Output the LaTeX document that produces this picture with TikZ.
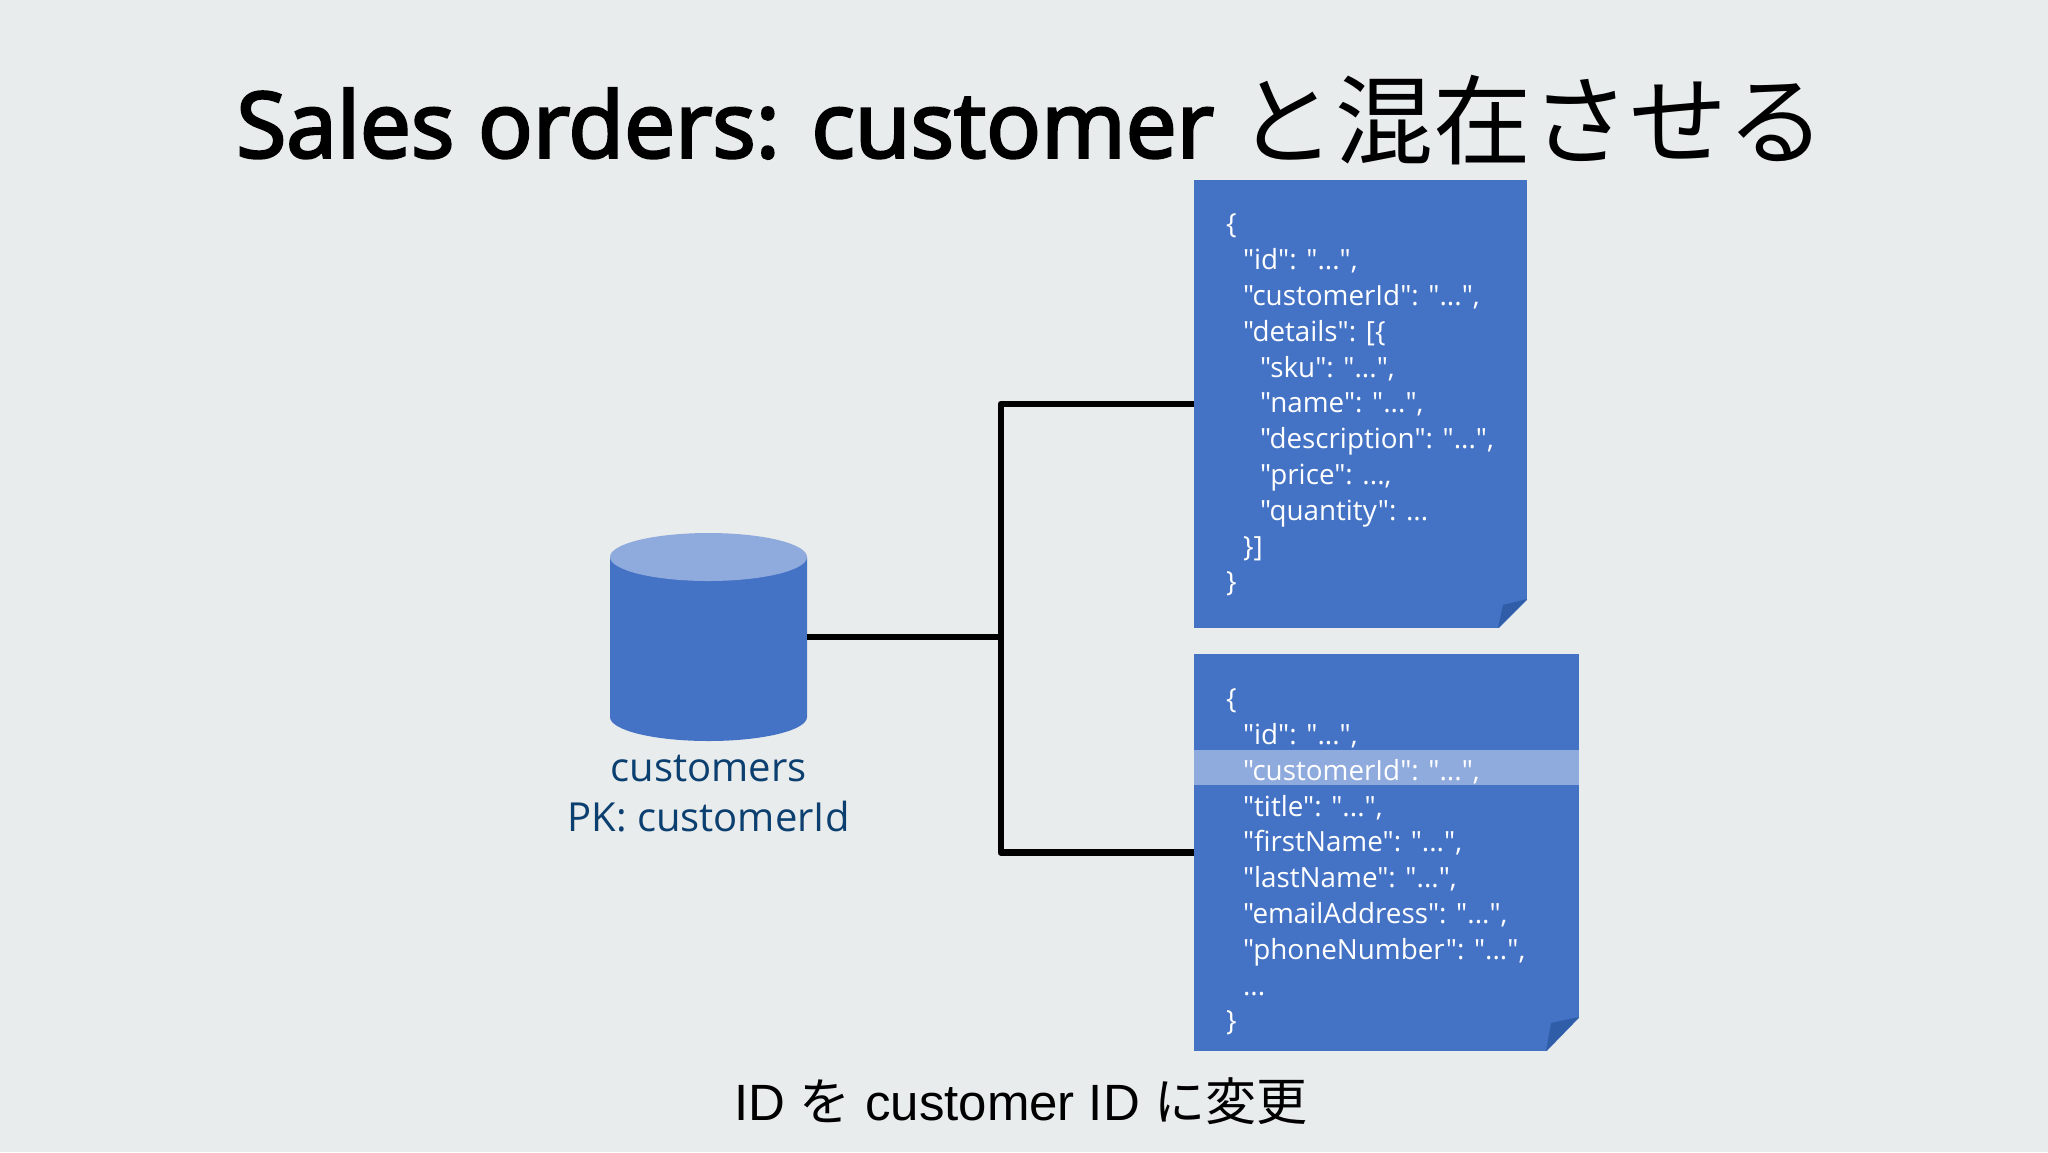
\documentclass[tikz,border=0pt]{standalone}
\usepackage{fontspec}
\setmainfont{Open Sans}
\newfontfamily\jsonfont{Open Sans}
\newfontfamily\jpfont{Noto Sans CJK JP}
\newfontfamily\titlefont[FakeBold=3]{Open Sans}
\newfontfamily\notefont{Liberation Sans}
\usepackage{tikz}
\usetikzlibrary{positioning}
\definecolor{tlo}{HTML}{E9ECEC}
\definecolor{niebieski}{HTML}{4472C4}
\definecolor{jasny}{HTML}{8FAADC}
\definecolor{ciemny}{HTML}{2F5DA8}
\definecolor{granat}{HTML}{0B3F70}

\begin{document}
\begin{tikzpicture}[x=.5pt,y=-.5pt]
\tikzset{
    %dokument
    dokument/.style={
           rectangle,
           inner sep=0pt, outer sep=0pt,
           fill=niebieski,
           anchor=north west},
    %tekst json
    jsontxt/.style={
           inner sep=0pt, outer sep=0pt,
           text=white,
           align=left,
           font=\jsonfont\fontsize{13.9}{17.9}\selectfont},
    pasek/.style={
           rectangle,
           inner sep=0pt, outer sep=0pt,
           fill=jasny},
    baza/.style={
           rectangle,
           inner sep=0pt, outer sep=0pt,
           minimum width=98.5pt,
           minimum height=104pt},
    opis/.style={
           text=granat,
           align=center,
           inner sep=0pt,
           font=\fontsize{20}{25}\selectfont},
    linia/.style={
           line width=3.4pt,
           line join=round,
           draw=black}
}
\fill[tlo] (0,0) rectangle (2048,1152);
\useasboundingbox (0,0) rectangle (2048,1152);

%tytul
\node(tytul) at (1031,120) {\titlefont\fontsize{45.5}{56}\selectfont Sales orders: customer {\jpfont\fontsize{49}{56}\selectfont と混在させる}};
\node(uwaga) at (1021,1101) {\notefont\fontsize{25.5}{30}\selectfont ID {\jpfont を} customer ID {\jpfont に変更}};

%dokumenty
\node(doka) [dokument,minimum width=166.5pt,minimum height=224pt] at (1194,180) {};
\node(dokb) [dokument,minimum width=192.5pt,minimum height=198.5pt] at (1194,654) {};
\node(pasekb) [pasek,minimum width=192.5pt,minimum height=17.5pt,anchor=north west] at (1194,750) {};

\node(txta) [jsontxt,below right=17pt and 16pt of doka.north west] {%
\{\\
\hspace{8.5pt}"id": "...",\\
\hspace{8.5pt}"customerId": "...",\\
\hspace{8.5pt}"details": [\{\\
\hspace{17pt}"sku": "...",\\
\hspace{17pt}"name": "...",\\
\hspace{17pt}"description": "...",\\
\hspace{17pt}"price": ...,\\
\hspace{17pt}"quantity": ...\\
\hspace{8.5pt}\}]\\
\}};
\node(txtb) [jsontxt,below right=17.4pt and 16pt of dokb.north west] {%
\{\\
\hspace{8.5pt}"id": "...",\\
\hspace{8.5pt}"customerId": "...",\\
\hspace{8.5pt}"title": "...",\\
\hspace{8.5pt}"firstName": "...",\\
\hspace{8.5pt}"lastName": "...",\\
\hspace{8.5pt}"emailAddress": "...",\\
\hspace{8.5pt}"phoneNumber": "...",\\
\hspace{8.5pt}...\\
\}};

%zagiete rogi
\fill[tlo] (1498,629) -- (1528,629) -- (1528,599) -- cycle;
\fill[ciemny] (1498,628) -- (1503,605) -- (1527,599) -- cycle;
\fill[tlo] (1546,1052) -- (1580,1052) -- (1580,1017) -- cycle;
\fill[ciemny] (1546,1051) -- (1551,1023) -- (1579,1017) -- cycle;

%baza
\node(klienci) [baza] at (708.5,637) {};
\fill[niebieski] (610,557) -- (610,717) arc[start angle=180,end angle=360,x radius=49.25pt,y radius=12pt] -- (807,557) -- cycle;
\fill[jasny] (708.5,557) ellipse[x radius=49.25pt,y radius=12pt];
\node(opisk) [opis,below=7pt of klienci] {customers\\PK: customerId};

%linie
\coordinate (pien) at (1001,637);
\draw[linia] (klienci.east) -- (pien);
\draw[linia] (doka.west) -| (pien) |- (dokb.west);
\end{tikzpicture}
\end{document}
